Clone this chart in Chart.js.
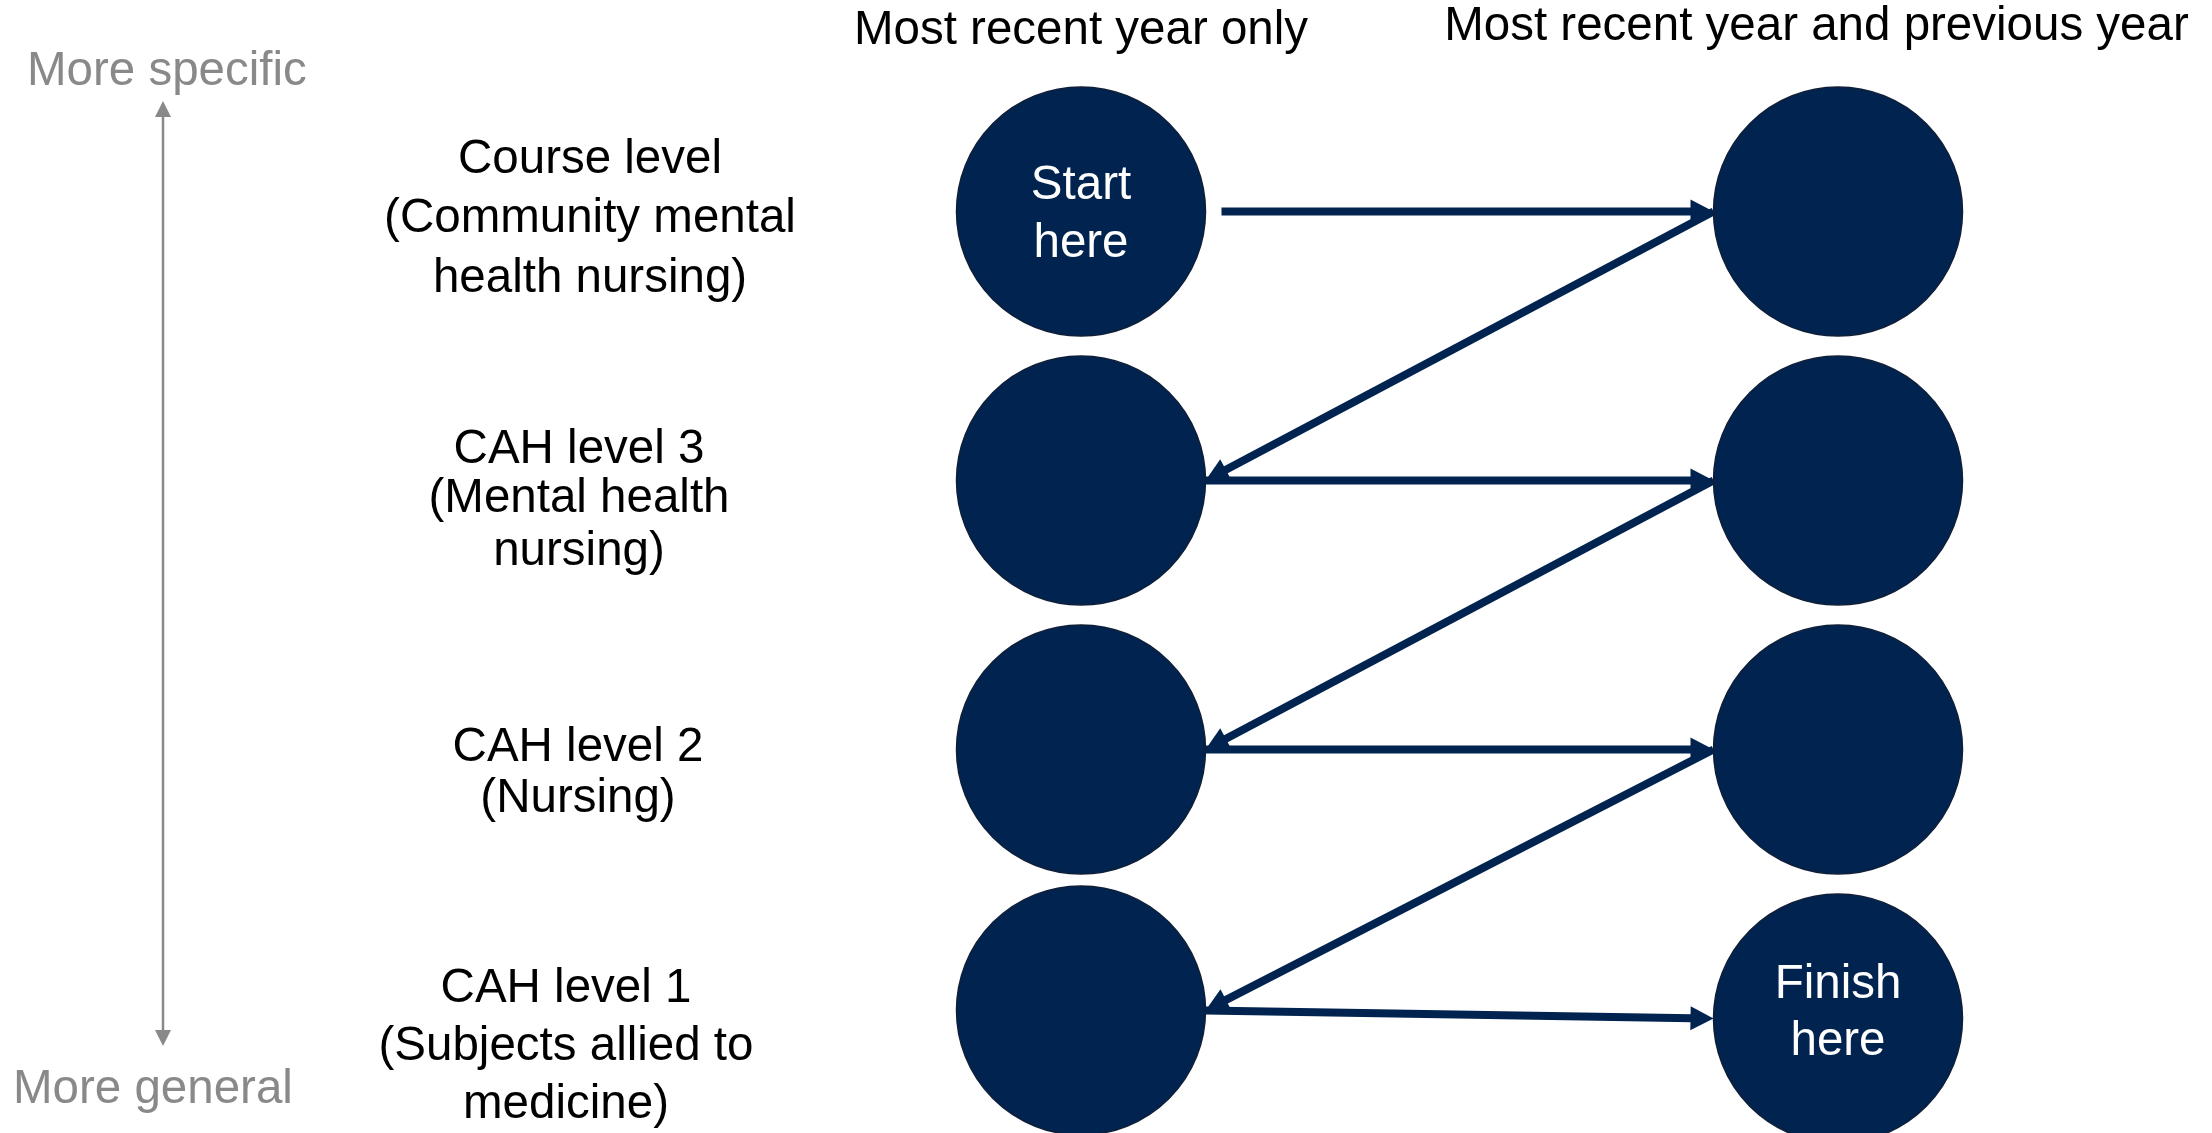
<!DOCTYPE html>
<html>
<head>
<meta charset="utf-8">
<title>Subject level fallback order</title>
<script src="https://cdn.jsdelivr.net/npm/chart.js@4.4.1/dist/chart.umd.min.js"></script>
<style>
  html, body { margin: 0; padding: 0; background: #fff; }
  #wrap { width: 2212px; height: 1133px; position: relative; }
</style>
</head>
<body>
<div id="wrap"><canvas id="chart"></canvas></div>
<script>
// ---- Data ----
const columnTitles = ['Most recent year only', 'Most recent year and previous year'];
const levelLabels = [
  ['Course level', '(Community mental', 'health nursing)'],
  ['CAH level 3', '(Mental health', 'nursing)'],
  ['CAH level 2', '(Nursing)'],
  ['CAH level 1', '(Subjects allied to', 'medicine)'],
];
const scaleEnds = ['More specific', 'More general'];

// nodes, listed in the order the arrows visit them
const nodeColumn = [0, 1, 0, 1, 0, 1, 0, 1];
const nodeLevel  = [0, 0, 1, 1, 2, 2, 2.97, 3];
const nodeText   = [['Start', 'here'], [], [], [], [], [], [], ['Finish', 'here']];

// ---- Layout ----
const W = 2212, H = 1133;
const COL0_PX = 1081, COL_STEP = 757;
const ROW0_PX = 211.5, ROW_STEP = 269;
const R = 124.5;
const NAVY = '#002350', GREY = '#898989';
const FONT = '47.5px "Liberation Sans", Arial, sans-serif';

const headerDx = [0, -21.5], headerBaseline = [44, 40];
const labelCenterPx = [590, 579, 578, 566];
const labelDy = [[-38.5, 20.5, 80.5], [-17.5, 31.5, 84.5], [11.5, 62.5], [-16.5, 41.5, 99.5]];
const nodeTextDy = { 0: [-12.5, 45.5], 7: [-20.5, 36.5] };

function arrow(ctx, x1, y1, x2, y2, len, half) {
  const a = Math.atan2(y2 - y1, x2 - x1);
  const bx = x2 - len * Math.cos(a), by = y2 - len * Math.sin(a);
  ctx.beginPath(); ctx.moveTo(x1, y1); ctx.lineTo(bx + Math.cos(a), by + Math.sin(a)); ctx.stroke();
  ctx.beginPath();
  ctx.moveTo(x2, y2);
  ctx.lineTo(bx + half * Math.sin(a), by - half * Math.cos(a));
  ctx.lineTo(bx - half * Math.sin(a), by + half * Math.cos(a));
  ctx.closePath(); ctx.fill();
}

const diagram = {
  id: 'diagram',
  beforeDatasetsDraw(chart) {
    const { ctx, scales: { x, y } } = chart;
    ctx.save();
    ctx.strokeStyle = NAVY; ctx.fillStyle = NAVY; ctx.lineWidth = 8;
    for (let i = 0; i < nodeColumn.length - 1; i++) {
      const ax = x.getPixelForValue(nodeColumn[i]), ay = y.getPixelForValue(nodeLevel[i]);
      const bx = x.getPixelForValue(nodeColumn[i + 1]), by = y.getPixelForValue(nodeLevel[i + 1]);
      const dir = Math.sign(bx - ax);
      const gap = i === 0 ? 16 : 0;   // first arrow starts a little off the Start circle
      arrow(ctx, ax + dir * (R + gap), ay, bx - dir * R, by, 23, 12);
    }
    ctx.restore();
  },
  afterDatasetsDraw(chart) {
    const { ctx, scales: { x, y } } = chart;
    ctx.save();
    ctx.font = FONT;
    ctx.textAlign = 'center';
    ctx.textBaseline = 'alphabetic';

    // column headers
    ctx.fillStyle = '#000';
    columnTitles.forEach((t, i) => ctx.fillText(t, x.getPixelForValue(i) + headerDx[i], headerBaseline[i]));

    // level labels
    levelLabels.forEach((lines, i) => {
      const cy = y.getPixelForValue(i);
      lines.forEach((t, j) => ctx.fillText(t, labelCenterPx[i], cy + labelDy[i][j]));
    });

    // text inside circles
    ctx.fillStyle = '#fff';
    nodeText.forEach((lines, i) => {
      if (!lines.length) return;
      const cx = x.getPixelForValue(nodeColumn[i]), cy = y.getPixelForValue(nodeLevel[i]);
      lines.forEach((t, j) => ctx.fillText(t, cx, cy + nodeTextDy[i][j]));
    });

    // specific -> general axis
    ctx.strokeStyle = GREY; ctx.fillStyle = GREY; ctx.lineWidth = 2.5;
    arrow(ctx, 163, 574, 163, 101, 16, 8);
    arrow(ctx, 163, 574, 163, 1046, 16, 8);
    ctx.textAlign = 'left';
    ctx.fillText(scaleEnds[0], 27, 85);
    ctx.fillText(scaleEnds[1], 13, 1103);
    ctx.restore();
  }
};

new Chart(document.getElementById('chart'), {
  type: 'scatter',
  data: {
    datasets: [{
      data: nodeColumn.map((c, i) => ({ x: c, y: nodeLevel[i] })),
      pointRadius: R, pointHoverRadius: R,
      backgroundColor: NAVY, borderColor: '#0f1f38', borderWidth: 1.5,
      clip: false,
    }],
  },
  options: {
    responsive: true, maintainAspectRatio: false, animation: false, events: [],
    layout: { padding: 0, autoPadding: false },
    scales: {
      x: { type: 'linear', display: false, min: -COL0_PX / COL_STEP, max: (W - COL0_PX) / COL_STEP },
      y: { type: 'linear', display: false, reverse: true, min: -ROW0_PX / ROW_STEP, max: (H - ROW0_PX) / ROW_STEP },
    },
    plugins: { legend: { display: false }, tooltip: { enabled: false } },
  },
  plugins: [diagram],
});
</script>
</body>
</html>
